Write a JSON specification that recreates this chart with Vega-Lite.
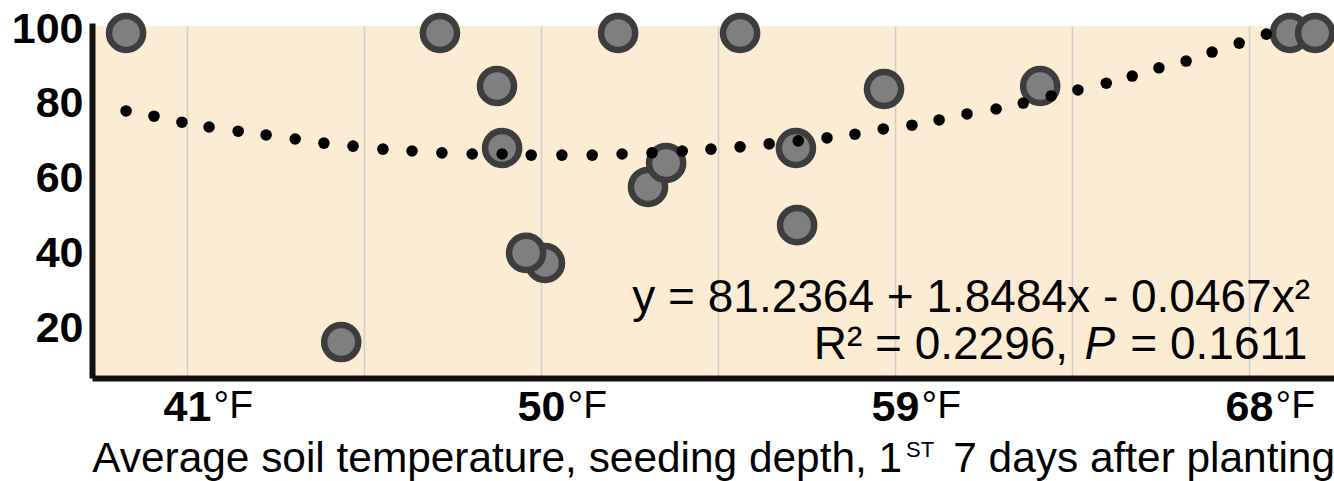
{
  "$schema": "https://vega.github.io/schema/vega-lite/v6.json",
  "width": 1239,
  "height": 349,
  "autosize": {"type": "none"},
  "padding": {"left": 95, "top": 26, "right": 0, "bottom": 106},
  "config": {
    "font": "Liberation Sans",
    "view": {"fill": "#fcecd3", "stroke": null}
  },
  "datasets": {
    "emergence": [
      {"temp": 39.45, "pct": 100},
      {"temp": 47.43, "pct": 100},
      {"temp": 51.96, "pct": 100},
      {"temp": 55.06, "pct": 100},
      {"temp": 48.88, "pct": 85.85},
      {"temp": 49.01, "pct": 69.3},
      {"temp": 58.72, "pct": 85.05},
      {"temp": 52.72, "pct": 58.9},
      {"temp": 53.18, "pct": 65.3},
      {"temp": 50.1, "pct": 38.6},
      {"temp": 49.62, "pct": 41.3},
      {"temp": 56.51, "pct": 48.7},
      {"temp": 56.48, "pct": 69.3},
      {"temp": 62.69, "pct": 85.85},
      {"temp": 69.04, "pct": 100},
      {"temp": 69.68, "pct": 100},
      {"temp": 44.92, "pct": 17.5}
    ],
    "trend": [
      {"temp": 39.45, "pct": 79.2},
      {"temp": 40.16, "pct": 77.8},
      {"temp": 40.87, "pct": 76.2},
      {"temp": 41.56, "pct": 74.9},
      {"temp": 42.3, "pct": 73.8},
      {"temp": 43.01, "pct": 72.8},
      {"temp": 43.75, "pct": 71.7},
      {"temp": 44.48, "pct": 70.6},
      {"temp": 45.22, "pct": 69.8},
      {"temp": 45.98, "pct": 69.0},
      {"temp": 46.72, "pct": 68.5},
      {"temp": 47.48, "pct": 68.0},
      {"temp": 48.25, "pct": 67.7},
      {"temp": 49.01, "pct": 67.7},
      {"temp": 49.75, "pct": 67.4},
      {"temp": 50.53, "pct": 67.4},
      {"temp": 51.3, "pct": 67.4},
      {"temp": 52.06, "pct": 67.7},
      {"temp": 52.82, "pct": 68.0},
      {"temp": 53.59, "pct": 68.5},
      {"temp": 54.32, "pct": 69.0},
      {"temp": 55.06, "pct": 69.6},
      {"temp": 55.8, "pct": 70.4},
      {"temp": 56.54, "pct": 71.2},
      {"temp": 57.27, "pct": 72.0},
      {"temp": 57.98, "pct": 73.0},
      {"temp": 58.7, "pct": 74.4},
      {"temp": 59.43, "pct": 75.4},
      {"temp": 60.12, "pct": 76.8},
      {"temp": 60.83, "pct": 78.4},
      {"temp": 61.57, "pct": 79.7},
      {"temp": 62.26, "pct": 81.3},
      {"temp": 62.97, "pct": 83.2},
      {"temp": 63.65, "pct": 84.8},
      {"temp": 64.37, "pct": 86.6},
      {"temp": 65.03, "pct": 88.5},
      {"temp": 65.71, "pct": 90.7},
      {"temp": 66.4, "pct": 92.5},
      {"temp": 67.06, "pct": 94.9},
      {"temp": 67.75, "pct": 97.3},
      {"temp": 68.44, "pct": 99.7}
    ]
  },
  "layer": [
    {
      "data": {"name": "emergence"},
      "mark": {"type": "point", "shape": "circle", "filled": true, "size": 1164, "fill": "#7f7f7f", "stroke": "#3d3d3d", "strokeWidth": 6.5, "opacity": 1, "fillOpacity": 1, "strokeOpacity": 1},
      "encoding": {
        "x": {
          "field": "temp", "type": "quantitative",
          "scale": {"domain": [38.66, 70.16], "nice": false, "zero": false},
          "axis": {
            "orient": "bottom", "values": [41, 45.5, 50, 54.5, 59, 63.5, 68],
            "grid": true, "gridColor": "#cfcfcf", "gridWidth": 1.5,
            "ticks": false, "domain": true, "domainColor": "#111111", "domainWidth": 6, "domainCap": "square", "offset": 3,
            "labelExpr": "indexof([41, 50, 59, 68], datum.value) >= 0 ? datum.label : ''",
            "labelFontWeight": "bold", "labelFontSize": 43, "labelColor": "#000000",
            "labelPadding": 8, "labelBaseline": "top", "labelFlush": false, "labelOverlap": false,
            "title": null
          }
        },
        "y": {
          "field": "pct", "type": "quantitative",
          "scale": {"domain": [8.7, 101.87], "nice": false, "zero": false},
          "axis": {
            "values": [20, 40, 60, 80, 100],
            "grid": false, "ticks": false, "domain": true, "domainColor": "#111111", "domainWidth": 6, "domainCap": "square", "offset": 3,
            "labelFontWeight": "bold", "labelFontSize": 43, "labelColor": "#000000",
            "labelPadding": 9, "labelOffset": -4, "labelFlush": false, "labelOverlap": false,
            "title": null
          }
        }
      }
    },
    {
      "data": {"name": "trend"},
      "mark": {"type": "point", "shape": "circle", "filled": true, "size": 133, "color": "#000000", "opacity": 1},
      "encoding": {
        "x": {
          "field": "temp", "type": "quantitative",
          "axis": {
            "orient": "bottom", "values": [41, 50, 59, 68], "labelExpr": "'°F'",
            "grid": false, "ticks": false, "domain": false, "offset": 3,
            "labelAlign": "left", "labelOffset": 26, "labelFontSize": 39, "labelFontWeight": "normal", "labelColor": "#000000",
            "labelPadding": 8, "labelBaseline": "top", "labelFlush": false, "labelOverlap": false,
            "title": null
          }
        },
        "y": {"field": "pct", "type": "quantitative", "axis": null}
      }
    },
    {
      "data": {"values": [{"label": "Average soil temperature, seeding depth, 1", "temp": 59.18, "pct": -17.2}]},
      "mark": {"type": "text", "align": "right", "baseline": "alphabetic", "fontSize": 42.4, "color": "#000000"},
      "encoding": {
        "x": {"field": "temp", "type": "quantitative", "axis": null},
        "y": {"field": "pct", "type": "quantitative", "axis": null},
        "text": {"field": "label"}
      }
    },
    {
      "data": {"values": [{"label": "ST", "temp": 59.28, "pct": -13.2}]},
      "mark": {"type": "text", "align": "left", "baseline": "alphabetic", "fontSize": 22, "color": "#000000"},
      "encoding": {
        "x": {"field": "temp", "type": "quantitative", "axis": null},
        "y": {"field": "pct", "type": "quantitative", "axis": null},
        "text": {"field": "label"}
      }
    },
    {
      "data": {"values": [{"label": "7 days after planting", "temp": 60.48, "pct": -17.2}]},
      "mark": {"type": "text", "align": "left", "baseline": "alphabetic", "fontSize": 42.4, "color": "#000000"},
      "encoding": {
        "x": {"field": "temp", "type": "quantitative", "axis": null},
        "y": {"field": "pct", "type": "quantitative", "axis": null},
        "text": {"field": "label"}
      }
    },
    {
      "data": {"values": [
        {"label": "y = 81.2364 + 1.8484x - 0.0467x²", "temp": 69.55, "pct": 25.5},
        {"label": "R² = 0.2296,", "temp": 63.4, "pct": 12.95},
        {"label": "= 0.1611", "temp": 69.48, "pct": 12.95}
      ]},
      "mark": {"type": "text", "align": "right", "baseline": "alphabetic", "fontSize": 46, "color": "#000000"},
      "encoding": {
        "x": {"field": "temp", "type": "quantitative", "axis": null},
        "y": {"field": "pct", "type": "quantitative", "axis": null},
        "text": {"field": "label"}
      }
    },
    {
      "data": {"values": [{"label": "P", "temp": 64.6, "pct": 12.95}]},
      "mark": {"type": "text", "align": "right", "baseline": "alphabetic", "fontSize": 46, "fontStyle": "italic", "color": "#000000"},
      "encoding": {
        "x": {"field": "temp", "type": "quantitative", "axis": null},
        "y": {"field": "pct", "type": "quantitative", "axis": null},
        "text": {"field": "label"}
      }
    }
  ],
  "resolve": {"axis": {"x": "independent", "y": "independent"}}
}
